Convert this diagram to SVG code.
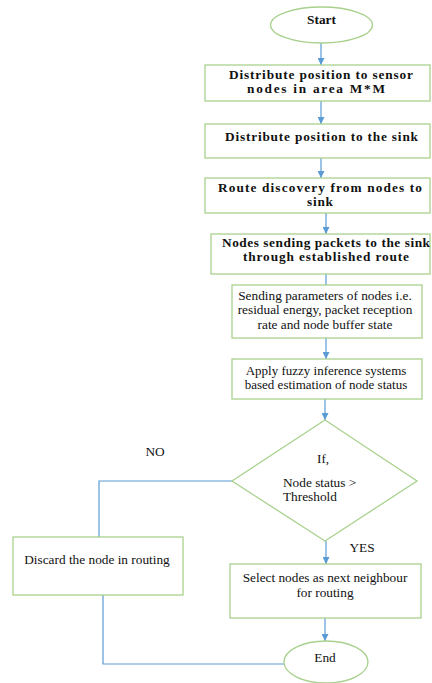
<svg xmlns="http://www.w3.org/2000/svg" width="432" height="683" viewBox="0 0 432 683">
<defs>
<marker id="ah" viewBox="0 0 10 10" refX="10" refY="5" markerWidth="7" markerHeight="7" markerUnits="userSpaceOnUse" orient="auto">
<path d="M0,0 L10,5 L0,10 z" fill="#5B9BD5"/>
</marker>
<style>
.box{fill:#fff;stroke:#A9D18E;stroke-width:1.3}
.ln{fill:none;stroke:#5B9BD5;stroke-width:1.2}
.arr{fill:none;stroke:#5B9BD5;stroke-width:1.2;marker-end:url(#ah)}
text{font-family:"Liberation Serif","Times New Roman",serif;font-size:13.3px;fill:#111}
.b{font-weight:bold;font-size:13.3px}
.c{text-anchor:middle}
.s{font-size:13px}
</style>
</defs>
<rect width="432" height="683" fill="#fff"/>
<g id="connectors">
<line class="arr" x1="321" y1="43" x2="321" y2="65"/>
<line class="arr" x1="321" y1="101" x2="321" y2="124"/>
<line class="arr" x1="321" y1="158" x2="321" y2="178"/>
<line class="arr" x1="326" y1="213" x2="326" y2="234"/>
<line class="ln" x1="326" y1="274" x2="326" y2="285"/>
<line class="arr" x1="326" y1="338" x2="326" y2="359"/>
<line class="arr" x1="325" y1="399" x2="325" y2="420"/>
<polyline class="ln" points="232,481 99,481 99,537"/>
<line class="arr" x1="326" y1="541" x2="326" y2="564"/>
<line class="arr" x1="325" y1="618" x2="325" y2="641"/>
<polyline class="ln" points="103,595 103,664 284,664"/>
</g>
<g id="start">
<ellipse class="box" cx="321.5" cy="25" rx="51" ry="18"/>
<text class="b c" x="321.5" y="24">Start</text>
</g>
<g id="distribute-nodes">
<rect class="box" x="205" y="65" width="225" height="36"/>
<text class="b" x="229" y="79" textLength="184" lengthAdjust="spacing">Distribute position to sensor</text>
<text class="b" x="247" y="93" textLength="138" lengthAdjust="spacing">nodes in area M*M</text>
</g>
<g id="distribute-sink">
<rect class="box" x="205" y="124" width="225" height="34"/>
<text class="b" x="225" y="141" textLength="193" lengthAdjust="spacing">Distribute position to the sink</text>
</g>
<g id="route-discovery">
<rect class="box" x="205" y="178" width="225" height="35"/>
<text class="b" x="218" y="192" textLength="204" lengthAdjust="spacing">Route discovery from nodes to</text>
<text class="b" x="307" y="206" textLength="26" lengthAdjust="spacing">sink</text>
</g>
<g id="sending-packets">
<rect class="box" x="211" y="234" width="219" height="40"/>
<text class="b" x="222" y="247" textLength="208" lengthAdjust="spacing">Nodes sending packets to the sink</text>
<text class="b" x="243" y="261" textLength="166" lengthAdjust="spacing">through established route</text>
</g>
<g id="sending-parameters">
<rect class="box" x="232" y="285" width="190" height="53"/>
<text class="c" x="325" y="300">Sending parameters of nodes i.e.</text>
<text class="c" x="325" y="314">residual energy, packet reception</text>
<text class="c" x="325" y="329">rate and node buffer state</text>
</g>
<g id="fuzzy">
<rect class="box" x="232" y="359" width="190" height="40"/>
<text class="c s" x="326" y="375">Apply fuzzy inference systems</text>
<text class="c s" x="326" y="389">based estimation of node status</text>
</g>
<g id="decision">
<polygon class="box" points="325,420 417,481 325,541 232,481"/>
<text x="317" y="463">If,</text>
<text x="283" y="487">Node status &gt;</text>
<text x="283" y="501">Threshold</text>
</g>
<g id="labels">
<text class="c" x="155" y="456">NO</text>
<text class="c" x="362" y="552">YES</text>
</g>
<g id="discard">
<rect class="box" x="13" y="537" width="170" height="58"/>
<text class="c" x="97" y="564">Discard the node in routing</text>
</g>
<g id="select">
<rect class="box" x="230" y="564" width="191" height="54"/>
<text class="c" x="325" y="582">Select nodes as next neighbour</text>
<text class="c" x="325" y="597">for routing</text>
</g>
<g id="end">
<ellipse class="box" cx="326" cy="662" rx="42" ry="21"/>
<text class="c" x="325" y="662">End</text>
</g>
</svg>
